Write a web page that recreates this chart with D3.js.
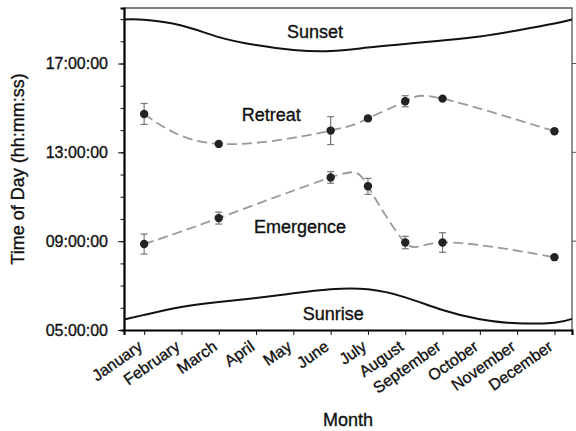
<!DOCTYPE html>
<html>
<head>
<meta charset="utf-8">
<script src="https://cdn.jsdelivr.net/npm/d3@7"></script>
<style>
    body { margin: 0; background: #fff; }
    text { font-family: "Liberation Sans", Arial, sans-serif; fill: #111; stroke: #111; stroke-width: 0.35px; }
</style>
</head>
<body>
<div id="chart"></div>
<script>
// month names on the x axis (index 0 = January)
const months = ["January", "February", "March", "April", "May", "June",
    "July", "August", "September", "October", "November", "December"];

// y ticks, hours of the day
const majorHours = [5, 9, 13, 17];

// sunrise / sunset curves, read at month positions
const sunMonths = [-0.54, 0, 1, 2, 3, 4, 5, 6, 7, 8, 9, 10, 11, 11.47];
const sunsetHours = [18.98, 18.97, 18.71, 18.19, 17.83, 17.61, 17.56, 17.72, 17.88, 18.04, 18.22, 18.49, 18.80, 18.98];
const sunriseHours = [5.47, 5.68, 6.04, 6.26, 6.44, 6.65, 6.83, 6.83, 6.47, 5.90, 5.48, 5.30, 5.33, 5.50];

// observed months and mean times (+/- error)
const obsMonths = [0, 2, 5, 6, 7, 8, 11];
const emergence = [8.87, 10.04, 11.87, 11.47, 8.94, 8.94, 8.28];
const emergenceErr = [0.45, 0.27, 0.26, 0.36, 0.28, 0.44, 0.0];
const retreat = [14.73, 13.38, 13.98, 14.53, 15.30, 15.42, 13.95];
const retreatErr = [0.47, 0.0, 0.63, 0.1, 0.25, 0.0, 0.0];

const margin = {top: 8, right: 4, bottom: 101, left: 124},
    width = 576 - margin.left - margin.right,
    height = 431 - margin.top - margin.bottom;

const svg = d3.select("#chart")
    .append("svg")
    .attr("width", 576)
    .attr("height", 431)
        .append("g")
        .attr("transform", "translate(" + margin.left + "," + margin.top + ")");

const x = d3.scaleLinear().domain([-0.54, 11.47]).range([0, width]);
const y = d3.scaleLinear().domain([5, 19.5]).range([height, 0]);

const fmtHour = h => d3.format("02d")(h) + ":00:00";

// frame (top + right, thin)
svg.append("path")
    .attr("d", "M0,0H" + width + "V" + height)
    .attr("fill", "none")
    .attr("stroke", "#555")
    .attr("stroke-width", 1.3);

// right side ticks
svg.selectAll(".rtick")
    .data(majorHours.slice(1))
    .enter().append("line")
        .attr("x1", width).attr("x2", width + 4)
        .attr("y1", d => y(d)).attr("y2", d => y(d))
        .attr("stroke", "#555");

// left axis: minor ticks each hour, labels on the major ones
const yAxis = svg.append("g")
    .call(d3.axisLeft(y).tickValues(d3.range(5, 20)).tickSize(3.5).tickFormat(""));
svg.append("g")
    .call(d3.axisLeft(y).tickValues(majorHours).tickSize(6).tickPadding(10).tickFormat(fmtHour))
    .call(g => g.select(".domain").remove())
    .selectAll("text")
        .style("font-size", "16px");
yAxis.select(".domain").attr("stroke-width", 2.2);

// bottom axis
const xAxis = svg.append("g")
    .attr("transform", "translate(0," + height + ")")
    .call(d3.axisBottom(x).tickValues(d3.range(12)).tickSize(5).tickFormat(i => months[i]));
xAxis.select(".domain").attr("stroke-width", 2.2);
xAxis.selectAll("text")
    .style("font-size", "16px")
    .attr("text-anchor", "end")
    .attr("y", 0)
    .attr("dy", 0)
    .attr("transform", "translate(-1,19) rotate(-35)");
svg.selectAll(".tick line").attr("stroke", "#111");

// axis titles
svg.append("text")
    .attr("x", width / 2)
    .attr("y", height + 96)
    .attr("text-anchor", "middle")
    .style("font-size", "18px")
    .text("Month");
svg.append("text")
    .attr("transform", "rotate(-90)")
    .attr("x", -(y(12.25)))
    .attr("y", -100)
    .attr("text-anchor", "middle")
    .style("font-size", "18px")
    .text("Time of Day (hh:mm:ss)");

// sunrise & sunset
const sunLine = d3.line()
    .x(d => x(d[0]))
    .y(d => y(d[1]))
    .curve(d3.curveNatural);

[sunsetHours, sunriseHours].forEach(function(hours) {
    svg.append("path")
        .attr("d", sunLine(sunMonths.map((m, i) => [m, hours[i]])))
        .attr("fill", "none")
        .attr("stroke", "#111")
        .attr("stroke-width", 2);
});

// emergence & retreat
const obsLine = d3.line()
    .x(d => x(d[0]))
    .y(d => y(d[1]))
    .curve(d3.curveNatural);

[[emergence, emergenceErr], [retreat, retreatErr]].forEach(function(s) {
    const vals = s[0], errs = s[1];
    const pts = obsMonths.map((m, i) => [m, vals[i], errs[i]]);

    svg.append("path")
        .attr("d", obsLine(pts))
        .attr("fill", "none")
        .attr("stroke", "#9a9a9a")
        .attr("stroke-width", 1.8)
        .attr("stroke-dasharray", "10,5");

    const bars = svg.append("g")
        .attr("stroke", "#777")
        .attr("stroke-width", 1.2);
    pts.filter(d => d[2] > 0).forEach(function(d) {
        const cx = x(d[0]), top = y(d[1] + d[2]), bot = y(d[1] - d[2]);
        bars.append("line").attr("x1", cx).attr("x2", cx).attr("y1", top).attr("y2", bot);
        bars.append("line").attr("x1", cx - 3.5).attr("x2", cx + 3.5).attr("y1", top).attr("y2", top);
        bars.append("line").attr("x1", cx - 3.5).attr("x2", cx + 3.5).attr("y1", bot).attr("y2", bot);
    });

    svg.selectAll(null)
        .data(pts)
        .enter().append("circle")
            .attr("r", 4.2)
            .attr("cx", d => x(d[0]))
            .attr("cy", d => y(d[1]))
            .attr("fill", "#222");
});

// curve labels
const labels = [
    {text: "Sunset", m: 4.58, h: 18.15},
    {text: "Retreat", m: 3.41, h: 14.4},
    {text: "Emergence", m: 4.18, h: 9.35},
    {text: "Sunrise", m: 5.07, h: 5.45}
];
labels.forEach(function(l) {
    svg.append("text")
        .attr("x", x(l.m))
        .attr("y", y(l.h))
        .attr("text-anchor", "middle")
        .style("font-size", "18px")
        .text(l.text);
});
</script>
</body>
</html>
